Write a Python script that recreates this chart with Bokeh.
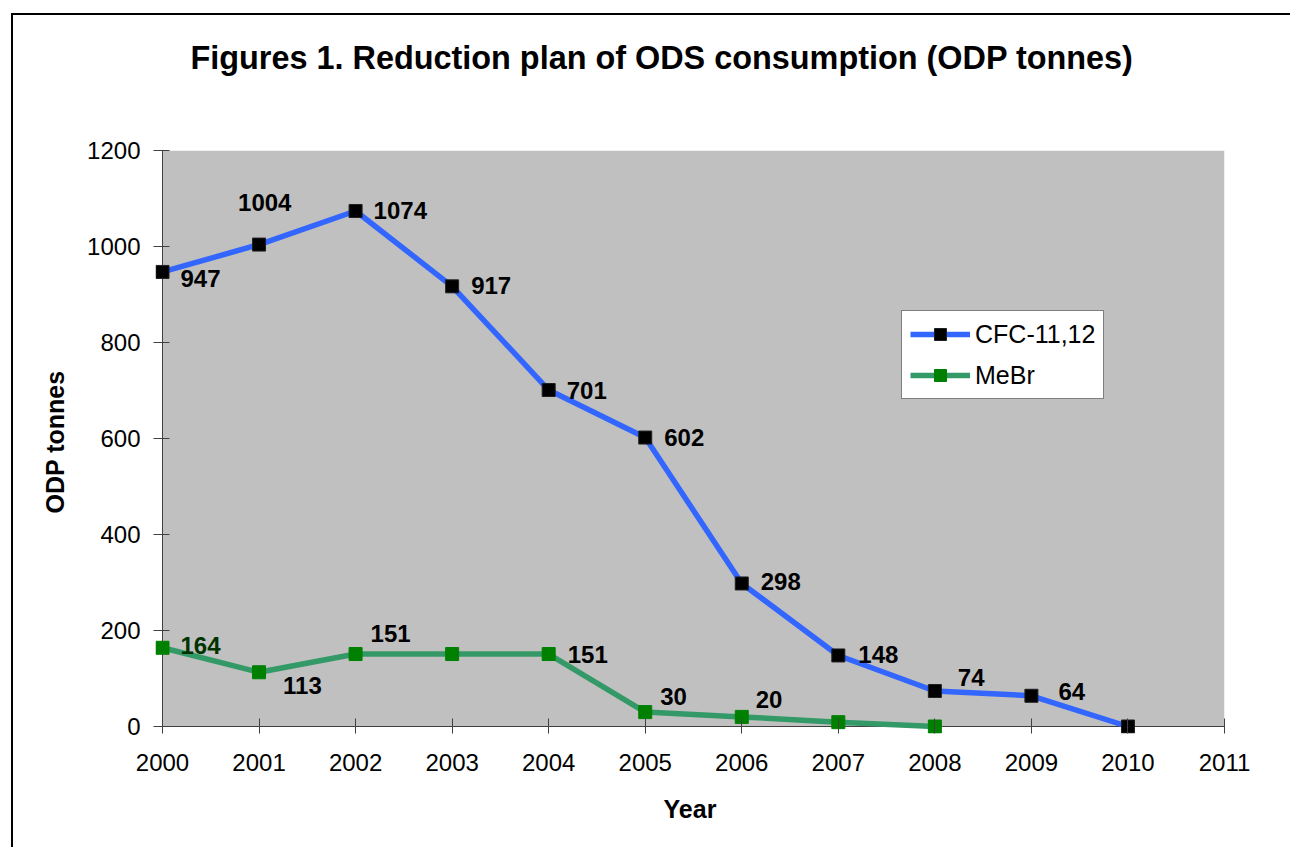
from bokeh.plotting import figure
from bokeh.models import (ColumnDataSource, Title, Legend, LegendItem, FixedTicker,
                          Range1d, BoxAnnotation)
from bokeh.core.properties import value
from bokeh.embed import file_html
from bokeh.resources import INLINE

# ---- data ----
cfc_years = [2000, 2001, 2002, 2003, 2004, 2005, 2006, 2007, 2008, 2009, 2010]
cfc_values = [947, 1004, 1074, 917, 701, 602, 298, 148, 74, 64, 0]
mebr_years = [2000, 2001, 2002, 2003, 2004, 2005, 2006, 2007, 2008]
mebr_values = [164, 113, 151, 151, 151, 30, 20, 9, 0]
x_tick_values = [2000, 2001, 2002, 2003, 2004, 2005, 2006, 2007, 2008, 2009, 2010, 2011]
y_tick_values = [0, 200, 400, 600, 800, 1000, 1200]
cfc_labelled = [0, 1, 2, 3, 4, 5, 6, 7, 8, 9]
mebr_labelled = [0, 1, 2, 4, 5, 6]

title_text = "Figures 1. Reduction plan of ODS consumption (ODP tonnes)"
series_names = ["CFC-11,12", "MeBr"]

# ---- label placement (screen px offsets, styles) ----
cfc_dx = [18, -21, 18, 19, 18, 19, 19, 20, 23, 27]
cfc_dy = [7, -42, 0, -1, 0, 0, -2, -1, -13, -4]
mebr_dx = [18, 24, 15, 19, 15, 14]
mebr_dy = [-2, 13, -21, 0, -16, -17]
mebr_colors = ["#003300", "#000000", "#000000", "#000000", "#000000", "#000000"]

FONT = "Liberation Sans"
AXIS_COLOR = "#404040"
X0, X1 = x_tick_values[0], x_tick_values[-1]
Y0, Y1 = y_tick_values[0], y_tick_values[-1]
PAD_PX = 7                       # white margin inside the frame so edge markers show
px_per_x = 1062 / (X1 - X0)
px_per_y = 576 / (Y1 - Y0)

p = figure(width=1279, height=834, output_backend="svg", toolbar_location=None,
           x_range=Range1d(X0 - PAD_PX / px_per_x, X1),
           y_range=Range1d(Y0 - PAD_PX / px_per_y, Y1), title=None,
           min_border_left=149 - PAD_PX, min_border_right=68, min_border_top=135,
           min_border_bottom=123 - PAD_PX)
p.styles = {"margin-left": "11px", "margin-top": "13px",
            "border-left": "2px solid #000000", "border-top": "2px solid #000000"}
p.background_fill_color = "#FFFFFF"
p.border_fill_color = "#FFFFFF"
p.outline_line_color = None
p.xgrid.grid_line_color = None
p.ygrid.grid_line_color = None
p.add_layout(BoxAnnotation(left=X0, right=X1, bottom=Y0, top=Y1,
                           fill_color="#C0C0C0", fill_alpha=1.0,
                           line_color=None, level="underlay"))

for ax in (p.xaxis[0], p.yaxis[0]):
    ax.axis_line_color = None
    ax.major_tick_line_color = AXIS_COLOR
    ax.minor_tick_line_color = None
    ax.major_label_text_font = FONT
    ax.major_label_text_font_size = "24px"
    ax.major_label_text_color = "#000000"
    ax.axis_label_text_font = FONT
    ax.axis_label_text_font_size = "25px"
    ax.axis_label_text_font_style = "bold"
    ax.axis_label_text_color = "#000000"

p.xaxis.ticker = FixedTicker(ticks=x_tick_values)
p.yaxis.ticker = FixedTicker(ticks=y_tick_values)
# axes sit on the frame edge, PAD_PX outside the data origin: ticks reach across it
p.xaxis.major_tick_in = 8 + PAD_PX
p.xaxis.major_tick_out = 0
p.yaxis.major_tick_in = 7 + PAD_PX
p.yaxis.major_tick_out = 2
p.xaxis.major_label_standoff = 20
p.yaxis.major_label_standoff = 13
p.xaxis.axis_label = "Year"
p.yaxis.axis_label = "ODP tonnes"
p.xaxis.axis_label_standoff = 21
p.yaxis.axis_label_standoff = 15

# axis lines at the data origin
p.segment(x0=[X0, X0], y0=[Y0, Y0], x1=[X1, X0], y1=[Y0, Y1],
          line_color=AXIS_COLOR, line_width=1)

cfc_src = ColumnDataSource(dict(x=cfc_years, y=cfc_values))
mebr_src = ColumnDataSource(dict(x=mebr_years, y=mebr_values))

cl = p.line("x", "y", source=cfc_src, line_color="#3366FF", line_width=5.5, line_join="round")
cm = p.scatter("x", "y", source=cfc_src, marker="square", size=13,
               fill_color="#000000", line_color="#202020")
ml = p.line("x", "y", source=mebr_src, line_color="#339966", line_width=5.5, line_join="round")
mm = p.scatter("x", "y", source=mebr_src, marker="square", size=13,
               fill_color="#008000", line_color="#008000")

cfc_lab = ColumnDataSource(dict(
    x=[cfc_years[i] for i in cfc_labelled],
    y=[cfc_values[i] for i in cfc_labelled],
    t=[str(cfc_values[i]) for i in cfc_labelled],
    dx=cfc_dx, dy=cfc_dy))
mebr_lab = ColumnDataSource(dict(
    x=[mebr_years[i] for i in mebr_labelled],
    y=[mebr_values[i] for i in mebr_labelled],
    t=[str(mebr_values[i]) for i in mebr_labelled],
    dx=mebr_dx, dy=mebr_dy, c=mebr_colors))

p.text("x", "y", text="t", source=cfc_lab, x_offset="dx", y_offset="dy",
       text_font=value(FONT), text_font_size="24px", text_font_style="bold",
       text_color="#000000", text_align="left", text_baseline="middle")
p.text("x", "y", text="t", source=mebr_lab, x_offset="dx", y_offset="dy",
       text_font=value(FONT), text_font_size="24px", text_font_style="bold",
       text_color="c", text_align="left", text_baseline="middle")

legend = Legend(items=[LegendItem(label=series_names[0], renderers=[cl, cm]),
                       LegendItem(label=series_names[1], renderers=[ml, mm])],
                location=(739 + PAD_PX, 327 + PAD_PX))
legend.label_text_font = FONT
legend.label_text_font_size = "25px"
legend.label_text_color = "#000000"
legend.glyph_width = 60
legend.glyph_height = 30
legend.label_height = 30
legend.label_standoff = 5
legend.padding = 8
legend.spacing = 11
legend.margin = 0
legend.border_line_color = "#000000"
legend.border_line_width = 1
legend.background_fill_color = "#FFFFFF"
legend.background_fill_alpha = 1.0
p.add_layout(legend)

# spacer (nearest the frame), then the visible title above it
p.add_layout(Title(text=" ", text_font=FONT, text_font_size="2px",
                   text_color="#FFFFFF", standoff=49), "above")
p.add_layout(Title(text=title_text, text_font=FONT, text_font_size="32.4px",
                   text_font_style="bold", text_color="#000000",
                   align="left", offset=28 + PAD_PX, standoff=44), "above")

open("out.html", "w").write(file_html(p, INLINE))
